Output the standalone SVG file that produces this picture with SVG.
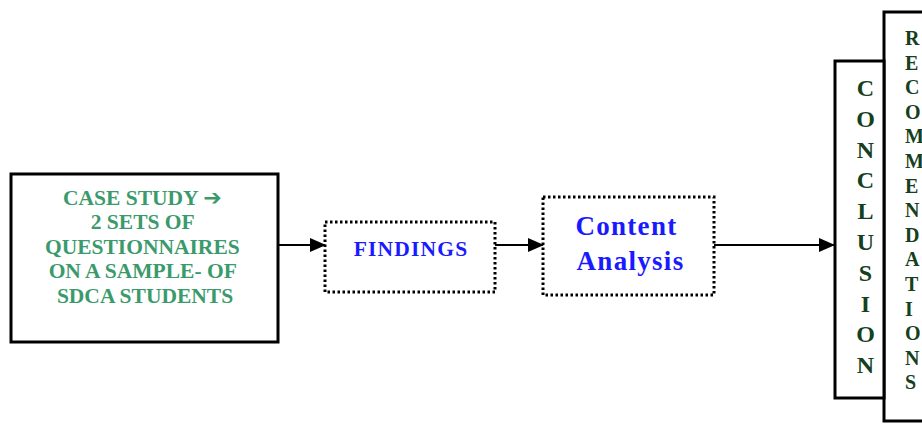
<svg xmlns="http://www.w3.org/2000/svg" width="922" height="424" viewBox="0 0 922 424">
<defs>
<marker id="ah" markerWidth="16" markerHeight="14" refX="15" refY="7" orient="auto" markerUnits="userSpaceOnUse">
<path d="M0,0 L16,7 L0,14 Z" fill="#000"/>
</marker>
<style>
.solid{fill:#fff;stroke:#000;stroke-width:3}
.dot{fill:#fff;stroke:#000;stroke-width:3;stroke-dasharray:2.5 2.5}
.t{font-family:"Liberation Serif","Times New Roman",serif;font-weight:bold;text-anchor:middle}
.green{fill:#3a9a6c;font-size:21.5px}
.blue{fill:#1a1aff}
.dk{fill:#16401c}
.conn{stroke:#000;stroke-width:2.2;fill:none}
.arr{font-family:"DejaVu Sans",sans-serif;font-size:22px}
</style>
</defs>
<rect width="922" height="424" fill="#fff"/>
<g id="recommendations">
<rect class="solid" x="884" y="12" width="44" height="409"/>
<text class="t dk" style="font-size:20px;text-anchor:start">
<tspan x="905" y="45">R</tspan><tspan x="905" y="69.6">E</tspan><tspan x="905" y="94.2">C</tspan><tspan x="905" y="118.8">O</tspan><tspan x="905" y="143.4">M</tspan><tspan x="905" y="168">M</tspan><tspan x="905" y="192.6">E</tspan><tspan x="905" y="217.2">N</tspan><tspan x="905" y="241.8">D</tspan><tspan x="905" y="266.4">A</tspan><tspan x="905" y="291">T</tspan><tspan x="905" y="315.6">I</tspan><tspan x="905" y="340.2">O</tspan><tspan x="905" y="364.8">N</tspan><tspan x="905" y="389.4">S</tspan>
</text>
</g>
<g id="conclusion">
<rect class="solid" x="835" y="61" width="49" height="337"/>
<text class="t dk" style="font-size:24px">
<tspan x="865.5" y="96">C</tspan><tspan x="865.5" y="126.8">O</tspan><tspan x="865.5" y="157.6">N</tspan><tspan x="865.5" y="188.4">C</tspan><tspan x="865.5" y="219.2">L</tspan><tspan x="865.5" y="250">U</tspan><tspan x="865.5" y="280.8">S</tspan><tspan x="865.5" y="311.6">I</tspan><tspan x="865.5" y="342.4">O</tspan><tspan x="865.5" y="373.2">N</tspan>
</text>
</g>
<g id="case-study">
<rect class="solid" x="11" y="174" width="267" height="168"/>
<text class="t green">
<tspan x="145" y="205">CASE STUDY <tspan class="arr">➔</tspan></tspan>
<tspan x="145" y="229.4">2 SETS OF</tspan>
<tspan x="145" y="253.8">QUESTIONNAIRES</tspan>
<tspan x="145" y="278.2">ON A SAMPLE- OF</tspan>
<tspan x="145" y="302.6">SDCA STUDENTS</tspan>
</text>
</g>
<g id="findings">
<rect class="dot" x="325" y="222" width="170" height="70"/>
<text class="t blue" x="411" y="256" style="font-size:21.5px;letter-spacing:1.2px">FINDINGS</text>
</g>
<g id="content-analysis">
<rect class="dot" x="543" y="197" width="171" height="98"/>
<text class="t blue" style="font-size:27px;letter-spacing:1.3px">
<tspan x="630.5" y="235">Content</tspan>
<tspan x="630.5" y="270">Analysis</tspan>
</text>
</g>
<g id="connectors">
<line class="conn" x1="278" y1="245" x2="325" y2="245" marker-end="url(#ah)"/>
<line class="conn" x1="495" y1="245" x2="543" y2="245" marker-end="url(#ah)"/>
<line class="conn" x1="714" y1="245" x2="834" y2="245" marker-end="url(#ah)"/>
</g>
</svg>
